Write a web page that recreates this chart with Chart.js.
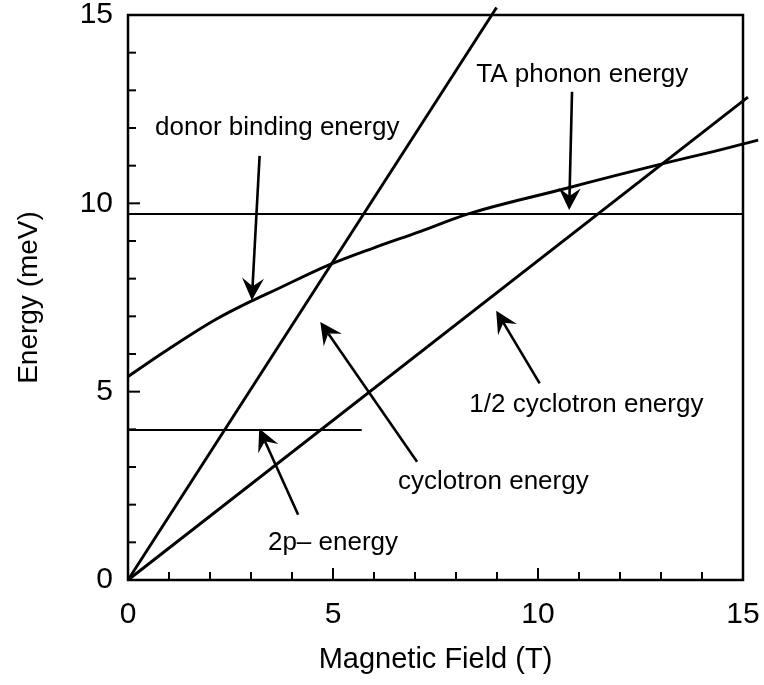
<!DOCTYPE html>
<html>
<head>
<meta charset="utf-8">
<script src="https://cdn.jsdelivr.net/npm/chart.js@4/dist/chart.umd.min.js"></script>
<style>
  html, body { margin: 0; padding: 0; background: #fff; }
  #wrap { width: 764px; height: 685px; }
</style>
</head>
<body>
<div id="wrap"><canvas id="energyChart"></canvas></div>
<script>
// values (field in T, energy in meV)
const cycField = [0, 8.99];
const cycEnergy = [0, 15.2];
const halfCycField = [0, 15.12];
const halfCycEnergy = [0, 12.82];
const donorField = [0, 0.78, 1.51, 2.16, 2.98, 3.63, 4.89, 6.0, 7.12, 8.3, 10.7, 12.0, 13.22, 14.3, 15.37];
const donorEnergy = [5.40, 5.98, 6.50, 6.93, 7.39, 7.72, 8.36, 8.82, 9.25, 9.72, 10.40, 10.77, 11.10, 11.38, 11.68];
const phononField = [0, 15];
const phononEnergy = [9.72, 9.72];
const p2Field = [0, 5.7];
const p2Energy = [3.98, 3.98];

// annotation labels and arrows (data units)
const noteText = ['donor binding energy', 'TA phonon energy', 'cyclotron energy', '1/2 cyclotron energy', '2p\u2013 energy'];
const noteX = [3.64, 11.08, 8.91, 11.18, 5.0];
const noteY = [12.0, 13.41, 2.60, 4.65, 0.98];
const arrowFromX = [3.21, 10.83, 7.05, 10.04, 4.15];
const arrowFromY = [11.26, 12.96, 3.14, 5.22, 1.73];
const arrowToX = [3.02, 10.76, 4.69, 8.98, 3.20];
const arrowToY = [7.43, 9.82, 6.85, 7.15, 4.02];

const FONT = '"Liberation Sans", Arial, Helvetica, sans-serif';

function pts(xs, ys) {
    return xs.map((x, i) => ({ x: x, y: ys[i] }));
}

// frame, inward ticks, labels and arrows
const decorPlugin = {
    id: 'decor',
    afterDatasetsDraw(chart) {
        const ctx = chart.ctx;
        const a = chart.chartArea;
        const xs = chart.scales.x, ys = chart.scales.y;
        ctx.save();
        ctx.strokeStyle = '#000';
        ctx.lineWidth = 2.5;
        ctx.strokeRect(a.left, a.top, a.right - a.left, a.bottom - a.top);

        ctx.lineWidth = 2;
        xs.ticks.forEach(t => {
            const px = xs.getPixelForValue(t.value);
            const len = t.value % 5 === 0 ? 12 : 8;
            ctx.beginPath();
            ctx.moveTo(px, a.bottom);
            ctx.lineTo(px, a.bottom - len);
            ctx.stroke();
        });
        ys.ticks.forEach(t => {
            const py = ys.getPixelForValue(t.value);
            const len = t.value % 5 === 0 ? 12 : 8;
            ctx.beginPath();
            ctx.moveTo(a.left, py);
            ctx.lineTo(a.left + len, py);
            ctx.stroke();
        });

        // text notes
        ctx.fillStyle = '#000';
        ctx.font = '26px ' + FONT;
        ctx.textAlign = 'center';
        ctx.textBaseline = 'middle';
        noteText.forEach((s, i) => {
            ctx.fillText(s, xs.getPixelForValue(noteX[i]), ys.getPixelForValue(noteY[i]));
        });

        // arrows
        for (let i = 0; i < arrowFromX.length; i++) {
            const x0 = xs.getPixelForValue(arrowFromX[i]);
            const y0 = ys.getPixelForValue(arrowFromY[i]);
            const x1 = xs.getPixelForValue(arrowToX[i]);
            const y1 = ys.getPixelForValue(arrowToY[i]);
            const ang = Math.atan2(y1 - y0, x1 - x0);
            const headLen = 22, headW = 11, notch = 14;
            ctx.lineWidth = 2.6;
            ctx.beginPath();
            ctx.moveTo(x0, y0);
            ctx.lineTo(x1 - Math.cos(ang) * notch, y1 - Math.sin(ang) * notch);
            ctx.stroke();
            ctx.save();
            ctx.translate(x1, y1);
            ctx.rotate(ang);
            ctx.beginPath();
            ctx.moveTo(0, 0);
            ctx.lineTo(-headLen, -headW);
            ctx.lineTo(-notch, 0);
            ctx.lineTo(-headLen, headW);
            ctx.closePath();
            ctx.fill();
            ctx.restore();
        }
        ctx.restore();
    }
};

const lineStyle = {
    borderColor: '#000',
    backgroundColor: '#000',
    pointRadius: 0,
    showLine: true,
    fill: false,
    clip: false
};

let energyChart = new Chart(document.getElementById('energyChart').getContext('2d'), {
    type: 'scatter',
    data: {
        datasets: [
            Object.assign({ label: 'cyclotron', data: pts(cycField, cycEnergy), borderWidth: 2.9 }, lineStyle),
            Object.assign({ label: 'half cyclotron', data: pts(halfCycField, halfCycEnergy), borderWidth: 2.9 }, lineStyle),
            Object.assign({ label: 'donor', data: pts(donorField, donorEnergy), borderWidth: 2.9, tension: 0.3, cubicInterpolationMode: 'monotone' }, lineStyle),
            Object.assign({ label: 'TA phonon', data: pts(phononField, phononEnergy), borderWidth: 2 }, lineStyle),
            Object.assign({ label: '2p-', data: pts(p2Field, p2Energy), borderWidth: 2 }, lineStyle)
        ]
    },
    options: {
        responsive: true,
        maintainAspectRatio: false,
        animation: false,
        layout: { padding: { top: 15, right: 21, bottom: 0, left: 0 } },
        plugins: {
            legend: { display: false },
            tooltip: { enabled: false }
        },
        scales: {
            x: {
                type: 'linear',
                min: 0,
                max: 15,
                grid: { display: false, drawTicks: false },
                border: { display: false },
                ticks: {
                    stepSize: 1,
                    autoSkip: false,
                    maxRotation: 0,
                    padding: 17,
                    color: '#000',
                    font: { family: FONT, size: 30 },
                    callback: v => (v % 5 === 0 ? String(v) : '')
                },
                title: {
                    display: true,
                    text: 'Magnetic Field (T)',
                    color: '#000',
                    font: { family: FONT, size: 29 },
                    padding: { top: 0, bottom: 8 }
                },
                afterFit: s => {
                    s.height = 105;
                    s.paddingLeft = 0;
                    s.paddingRight = 0;
                }
            },
            y: {
                type: 'linear',
                min: 0,
                max: 15,
                grid: { display: false, drawTicks: false },
                border: { display: false },
                ticks: {
                    stepSize: 1,
                    autoSkip: false,
                    padding: 15,
                    color: '#000',
                    font: { family: FONT, size: 30 },
                    callback: v => (v % 5 === 0 ? String(v) : '')
                },
                title: {
                    display: true,
                    text: 'Energy (meV)',
                    color: '#000',
                    font: { family: FONT, size: 28 },
                    padding: { top: 12, bottom: 0 }
                },
                afterFit: s => {
                    s.width = 128;
                    s.paddingTop = 0;
                    s.paddingBottom = 0;
                }
            }
        }
    },
    plugins: [decorPlugin]
});
</script>
</body>
</html>
